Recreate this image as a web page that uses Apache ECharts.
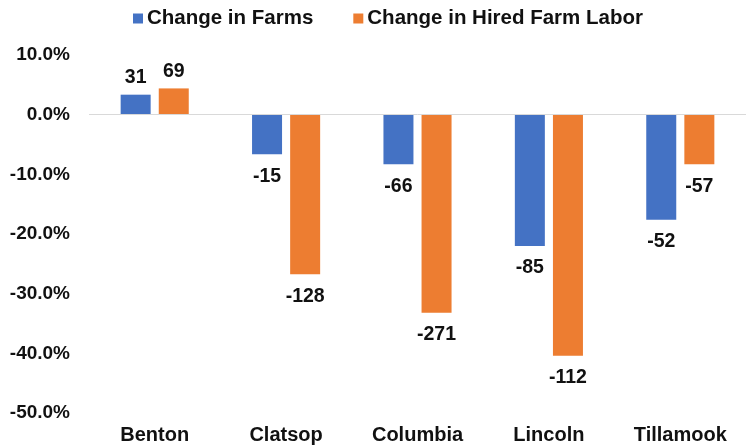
<!DOCTYPE html>
<html>
<head>
<meta charset="utf-8">
<script src="https://cdn.jsdelivr.net/npm/echarts@6/dist/echarts.min.js"></script>
<style>
html,body{margin:0;padding:0;background:#fff;}
#chart{width:746px;height:447px;}
</style>
</head>
<body>
<div id="chart"></div>
<script>
// Data
var categories = ['Benton', 'Clatsop', 'Columbia', 'Lincoln', 'Tillamook'];
var seriesNames = ['Change in Farms', 'Change in Hired Farm Labor'];
var farmsPct = [3.35, -6.65, -8.3, -22.0, -17.6];      // % change
var laborPct = [4.4, -26.75, -33.2, -40.4, -8.3];      // % change
var farmsCount = [31, -15, -66, -85, -52];             // data labels
var laborCount = [69, -128, -271, -112, -57];          // data labels
var yTicks = [-50, -40, -30, -20, -10, 0, 10];

var FONT = '"Liberation Sans", Arial, sans-serif';
var labelStyle = {fontFamily: FONT, fontWeight: 'bold', fontSize: 19.5, color: '#111'};

function buildData(pcts, counts) {
  return pcts.map(function (v, i) {
    return {
      value: v,
      count: counts[i],
      label: {position: v < 0 ? 'bottom' : 'top', distance: v < 0 ? 12 : 7}
    };
  });
}

var chart = echarts.init(document.getElementById('chart'), null, {renderer: 'canvas'});
chart.setOption({
  animation: false,
  backgroundColor: '#fff',
  color: ['#4472C4', '#ED7D31'],
  legend: {
    left: 128, top: 3,
    itemWidth: 10, itemHeight: 10, itemGap: 40,
    icon: 'rect',
    textStyle: {fontFamily: FONT, fontWeight: 'bold', fontSize: 20.5, color: '#111', padding: [0, 0, 0, -1]},
    data: seriesNames
  },
  grid: {left: 89, width: 663, top: 55, height: 358, containLabel: false},
  xAxis: {
    type: 'category',
    data: categories,
    axisLine: {show: false, onZero: false},
    axisTick: {show: false},
    axisLabel: {fontFamily: FONT, fontWeight: 'bold', fontSize: 20, color: '#111', margin: 12}
  },
  yAxis: {
    type: 'value',
    min: yTicks[0], max: yTicks[yTicks.length - 1], interval: 10,
    axisLine: {show: false},
    axisTick: {show: false},
    splitLine: {show: false},
    axisLabel: {
      fontFamily: FONT, fontWeight: 'bold', fontSize: 19, color: '#111', margin: 19,
      formatter: function (v) { return v.toFixed(1) + '%'; }
    }
  },
  series: [
    {
      name: seriesNames[0], type: 'bar', barWidth: 30, barGap: '27%',
      data: buildData(farmsPct, farmsCount),
      label: Object.assign({show: true, formatter: function (p) { return p.data.count; }}, labelStyle),
      markLine: {
        silent: true, symbol: 'none', label: {show: false},
        lineStyle: {color: '#d9d9d9', width: 1, type: 'solid'},
        data: [{yAxis: 0}]
      },
      z: 3
    },
    {
      name: seriesNames[1], type: 'bar', barWidth: 30, barGap: '27%',
      data: buildData(laborPct, laborCount),
      label: Object.assign({show: true, formatter: function (p) { return p.data.count; }}, labelStyle),
      z: 3
    }
  ]
});
</script>
</body>
</html>
